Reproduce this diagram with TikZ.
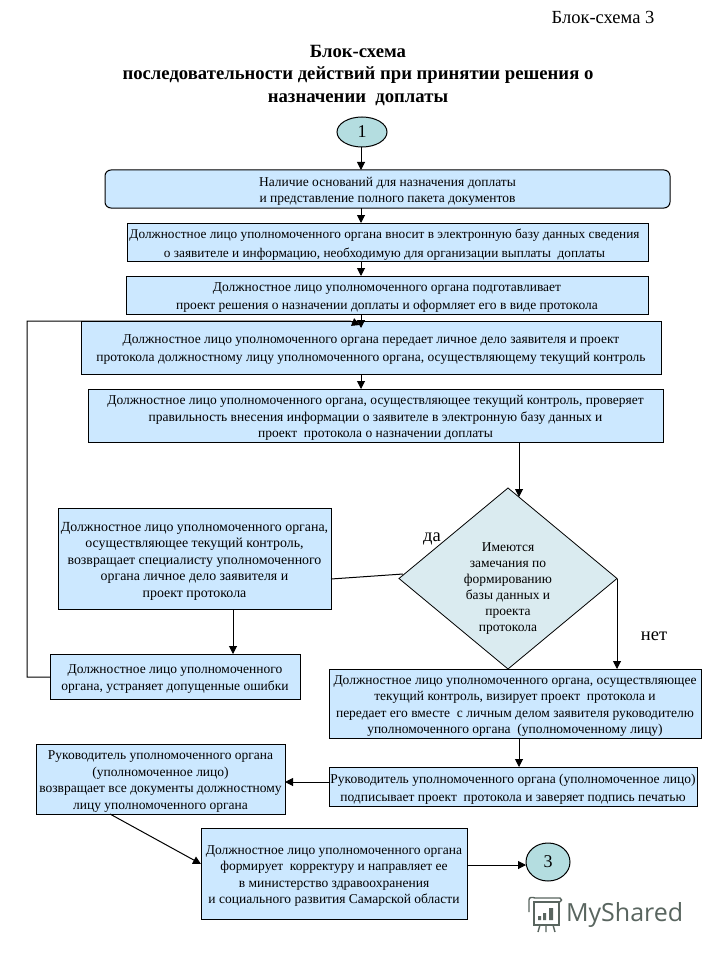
\documentclass[tikz,border=0pt]{standalone}
\usepackage{fontspec}
\setmainfont{Liberation Serif}
\newfontfamily\wmfont{Open Sans}
\usetikzlibrary{shapes.geometric,arrows.meta,calc}
\definecolor{boxblue}{HTML}{CCE8FF}
\definecolor{diagblue}{HTML}{DAEBF0}
\definecolor{termteal}{HTML}{B4DDE0}
\definecolor{wmgray}{HTML}{59655F}
\tikzset{
 x=1pt,y=-1pt,
 every node/.style={font=\fontsize{13.5}{16.4}\selectfont,inner sep=0pt,outer sep=0pt,align=center},
 fs/.style n args={2}{font=\fontsize{#1}{#2}\selectfont},
 pbox/.style={draw=black,line width=1pt,fill=boxblue,anchor=center},
 rbox/.style={pbox,rounded corners=6pt},
 term/.style={draw=black,line width=1pt,fill=termteal,ellipse,font=\fontsize{18}{20}\selectfont},
 dec/.style={draw=black,line width=0.8pt,fill=diagblue,diamond},
 conn/.style={draw=black,line width=1pt},
 arr/.style={conn,-{Triangle[length=8pt,width=8pt]}},
 lab/.style={font=\fontsize{18.5}{20}\selectfont},
 head/.style={font=\bfseries\fontsize{18.7}{22.5}\selectfont},
}
% [box style]{x1}{y1}{x2}{y2}{name}{text style}{text}
\newcommand{\pb}[8][pbox]{\node[#1,minimum width=#4-#2,minimum height=#5-#3] (#6) at ({(#2+#4)/2},{(#3+#5)/2}) {};
 \node[#7] (#6t) at ({(#2+#4)/2},{(#3+#5)/2+2.5}) {#8}}
\begin{document}
\begin{tikzpicture}
\useasboundingbox (0,0) rectangle (720,960);
\fill[white] (0,0) rectangle (720,960);
\node[lab] (corner) at (603,17) {Блок-схема 3};
\node[head] (title) at (358,75.5) {Блок-схема\\последовательности действий при принятии решения о\\назначении~ доплаты};
\node[term,minimum width=50pt,minimum height=30pt] (c1) at (362,132) {1};
\pb[rbox]{105}{170}{670}{208}{b1}{fs={13.5}{15.5}}{Наличие оснований для назначения доплаты\\и представление полного пакета документов};
\pb{127}{223}{648}{261}{b2}{fs={13.3}{18.5}}{Должностное лицо уполномоченного органа вносит в электронную базу данных сведения\hspace*{6pt}\\о заявителе и информацию, необходимую для организации выплаты~ доплаты\hspace*{6pt}};
\pb{126}{276}{648}{314}{b3}{fs={13.5}{18}}{Должностное лицо уполномоченного органа подготавливает\\проект решения о назначении доплаты и оформляет его в виде протокола};
\pb{81}{321}{661}{374}{b4}{fs={13.5}{18}}{Должностное лицо уполномоченного органа передает личное дело заявителя и проект\\протокола должностному лицу уполномоченного органа, осуществляющему текущий контроль};
\pb{88}{389}{663}{442}{b5}{}{Должностное лицо уполномоченного органа, осуществляющее текущий контроль, проверяет\\правильность внесения информации о заявителе в электронную базу данных и\\проект~ протокола о назначении доплаты};
\node[dec,minimum width=218pt,minimum height=181pt,aspect=1.2] (d) at (508,578.5) {};
\node[fs={13.5}{16}] (dt) at (508,589) {Имеются\\замечания по\\формированию\\базы данных и\\проекта\\протокола};
\pb{58}{508}{331}{609}{l1}{fs={13.9}{16.5}}{Должностное лицо уполномоченного органа,\\осуществляющее текущий контроль,\\возвращает специалисту уполномоченного\\органа личное дело заявителя и\\проект протокола};
\pb{50}{654}{300}{699}{l2}{}{Должностное лицо уполномоченного\\органа, устраняет допущенные ошибки};
\pb{329}{669}{701}{738}{r1}{}{Должностное лицо уполномоченного органа, осуществляющее\\текущий контроль, визирует проект~ протокола и\\передает его вместе~ с личным делом заявителя руководителю\\уполномоченного органа~ (уполномоченному лицу)};
\pb{329}{767}{697}{806}{r2}{fs={13.5}{18}}{Руководитель уполномоченного органа (уполномоченное лицо)\\подписывает проект~ протокола и заверяет подпись печатью};
\pb{36}{744}{285}{814}{m}{}{Руководитель уполномоченного органа\\(уполномоченное лицо)\\возвращает все документы должностному\\лицу уполномоченного органа};
\pb{201}{828}{467}{919}{bt}{}{Должностное лицо уполномоченного органа\\формирует~ корректуру и направляет ее\\в министерство здравоохранения\\и социального развития Самарской области};
\node[term,minimum width=44pt,minimum height=38pt] (c3) at (548,862) {3};
\node[lab] (yes) at (432,539) {да};
\node[lab] (no) at (654,636) {нет};
\coordinate (xa) at (361,0);
\coordinate (xb) at (519,0);
\coordinate (dl) at (403,574);
\coordinate (fb1) at (27,677);
\coordinate (fb2) at (27,321);
\coordinate (fb3) at (350,321);
\coordinate (fb4) at (360,325);
\coordinate (dtop) at (519,497);
\coordinate (ml) at (110,814);
\coordinate (bl) at (201,864);
\draw[arr] (c1.south -| xa) -- (b1.north -| xa);
\draw[arr] (b1.south -| xa) -- (b2.north -| xa);
\draw[arr] (b2.south -| xa) -- (b3.north -| xa);
\draw[arr] (b3.south -| xa) -- ($(b4.north -| xa)+(0,7)$);
\draw[arr] (b4.south -| xa) -- (b5.north -| xa);
\draw[arr] (b5.south -| xb) -- (dtop);
\draw[conn] (dl) -- (l1.east |- 0,579);
\draw[arr] (l1.south -| 233,0) -- (l2.north -| 233,0);
\draw[arr] (l2.west |- fb1) -- (fb1) -- (fb2) -- (fb3) -- (fb4);
\draw[arr] (d.east) -- (r1.north -| d.east);
\draw[arr] (r1.south -| xb) -- (r2.north -| xb);
\draw[arr] (r2.west |- 0,782) -- (m.east |- 0,782);
\draw[arr] (ml) -- (bl);
\draw[arr] (bt.east |- 0,865) -- (c3.west |- 0,865);
% watermark
\node[font=\wmfont\fontsize{25}{25}\selectfont,text=wmgray,anchor=west] (wm) at (566,915) {MyShared};
\begin{scope}[draw=wmgray,line width=1.4pt]
\draw (534,902) rectangle (559,925);
\draw (529,912) -- (529,900) .. controls (529,897) and (532,897) .. (535,898) -- (560,898) .. controls (562,899) and (562,901) .. (560,902);
\draw (540,925) -- (538,932) (546,925) -- (546,932) (553,925) -- (555,932);
\fill[wmgray] (538,916) rectangle (541,920) (543,913) rectangle (546,920) (549,908) rectangle (553,920);
\end{scope}
\end{tikzpicture}
\end{document}
